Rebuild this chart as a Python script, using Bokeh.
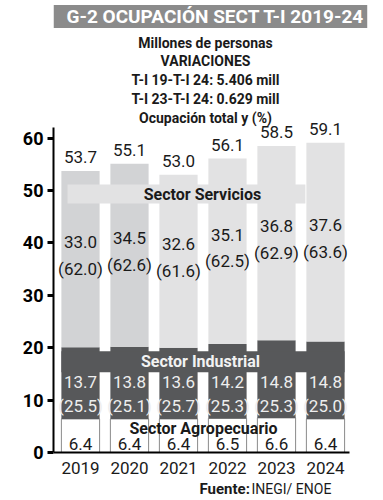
from bokeh.plotting import figure
from bokeh.models import ColumnDataSource, Range1d, FixedTicker, Label
from bokeh.core.properties import value
from bokeh.embed import file_html
from bokeh.resources import INLINE

# ---- data ----
years = ["2019", "2020", "2021", "2022", "2023", "2024"]
totals = [53.7, 55.1, 53.0, 56.1, 58.5, 59.1]
servicios = [33.0, 34.5, 32.6, 35.1, 36.8, 37.6]
servicios_pct = [62.0, 62.6, 61.6, 62.5, 62.9, 63.6]
industrial = [13.7, 13.8, 13.6, 14.2, 14.8, 14.8]
industrial_pct = [25.5, 25.1, 25.7, 25.3, 25.3, 25.0]
agro = [6.4, 6.4, 6.4, 6.5, 6.6, 6.4]
y_ticks = [0, 10, 20, 30, 40, 50, 60]
title_text = "G-2 OCUPACIÓN SECT T-I 2019-24"
subtitle_lines = ["Millones de personas", "VARIACIONES",
                  "T-I 19-T-I 24: 5.406 mill", "T-I 23-T-I 24: 0.629 mill",
                  "Ocupación total y (%)"]

FONT = "Roboto"
DARK = "#57585a"
LIGHT_A = "#d2d3d5"
LIGHT_B = "#e2e2e3"
INK = "#1a1a1a"

xs = list(range(len(years)))
ind_top = [a + i for a, i in zip(agro, industrial)]
serv_colors = [LIGHT_A, LIGHT_A, LIGHT_B, LIGHT_B, LIGHT_B, LIGHT_B]
serv_mid = [(b + t) / 2 for b, t in zip(ind_top, totals)]

src = ColumnDataSource(dict(
    x=xs, agro=agro, ind_top=ind_top, totals=totals, serv_colors=serv_colors,
    tot_lbl=[f"{v:.1f}" for v in totals],
    tot_y=[v + 2.6 for v in totals],
    serv_lbl=[f"{v:.1f}" for v in servicios],
    serv_pct_lbl=[f"({v:.1f})" for v in servicios_pct],
    serv_y=[m + 3.2 for m in serv_mid],
    serv_pct_y=[m - 1.8 for m in serv_mid],
    ind_lbl=[f"{v:.1f}" for v in industrial],
    ind_pct_lbl=[f"({v:.1f})" for v in industrial_pct],
    agro_lbl=[f"{v:.1f}" for v in agro],
))

# frame covers the full canvas height and extends to the right edge,
# so that the texts above and below the chart stay inside it
p = figure(width=383, height=500, output_backend="svg", toolbar_location=None,
           x_range=Range1d(-0.551, 6.184), y_range=Range1d(-9.16, 86.26),
           min_border_left=53, min_border_right=0, min_border_top=0,
           min_border_bottom=0)
p.outline_line_color = None
p.xgrid.visible = False
p.ygrid.visible = False
p.background_fill_color = "white"
p.border_fill_color = "white"

W = 0.78
# bars
p.vbar(x="x", bottom=0, top="agro", width=W, source=src,
       fill_color="white", line_color="#8a8a8a", line_width=1)
p.vbar(x="x", bottom="agro", top="ind_top", width=W, source=src,
       fill_color=DARK, line_color=None)
p.vbar(x="x", bottom="ind_top", top="totals", width=W, source=src,
       fill_color="serv_colors", line_color=None)

# sector bands
p.quad(left=-0.265, right=4.59, bottom=47.5, top=51.15,
       fill_color=LIGHT_B, line_color=None)
p.quad(left=-W / 2, right=5 + W / 2, bottom=15.3, top=19.3,
       fill_color=DARK, line_color=None)

sector = dict(text_font=value(FONT), text_font_style="bold", text_font_size="16px",
              text_align="center", text_baseline="middle")
p.text(x=[2.49], y=[49.3], text=["Sector Servicios"], text_color=INK, **sector)
p.text(x=[2.45], y=[17.3], text=["Sector Industrial"], text_color="#f2f2f2", **sector)
p.text(x=[2.51], y=[4.6], text=["Sector Agropecuario"], text_color=INK, **sector)

common = dict(source=src, text_font=value(FONT), text_font_size="17px",
              text_align="center", text_baseline="middle")
p.text(x="x", y="tot_y", text="tot_lbl", text_color=INK, **common)
p.text(x="x", y="serv_y", text="serv_lbl", text_color=INK, **common)
p.text(x="x", y="serv_pct_y", text="serv_pct_lbl", text_color=INK, **common)
p.text(x="x", y=13.4, text="ind_lbl", text_color="#eeeeee", **common)
p.text(x="x", y=8.8, text="ind_pct_lbl", text_color="#eeeeee", **common)
p.text(x="x", y=1.7, text="agro_lbl", text_color=INK, **common)

# axes
p.yaxis.ticker = FixedTicker(ticks=y_ticks)
p.yaxis.bounds = (0, 62)
p.yaxis.minor_tick_line_color = None
p.yaxis.axis_line_width = 2
p.yaxis.axis_line_color = "black"
p.yaxis.major_tick_in = 0
p.yaxis.major_tick_out = 6
p.yaxis.major_tick_line_width = 3
p.yaxis.major_label_text_font = FONT
p.yaxis.major_label_text_font_style = "bold"
p.yaxis.major_label_text_font_size = "18px"
p.yaxis.major_label_text_color = "black"
p.yaxis.major_label_standoff = 4

p.xaxis.ticker = FixedTicker(ticks=xs)
p.xaxis.fixed_location = 0
p.xaxis.bounds = (-0.551, 5.49)
p.xaxis.major_label_overrides = {i: y for i, y in zip(xs, years)}
p.xaxis.major_tick_line_color = None
p.xaxis.minor_tick_line_color = None
p.xaxis.major_tick_out = 0
p.xaxis.major_tick_in = 0
p.xaxis.axis_line_width = 2
p.xaxis.axis_line_color = "black"
p.xaxis.major_label_text_font = FONT
p.xaxis.major_label_text_font_size = "17px"
p.xaxis.major_label_text_color = INK
p.xaxis.major_label_standoff = 9

# annotations in screen units relative to the frame (left=53 px, bottom=500 px)
FL, FB = 53, 500
BANNER = "#8b8b8b"
p.add_layout(Label(x=53 - FL, y=FB - 16, x_units="screen", y_units="screen",
                   text=title_text, text_font=FONT, text_font_style="bold",
                   text_font_size="19px", text_color="white",
                   text_align="left", text_baseline="middle",
                   background_fill_color=BANNER, padding=(13, 3, 0, 0)))
for line, ys in zip(subtitle_lines, [42, 60, 79, 98, 117]):
    p.add_layout(Label(x=205 - FL, y=FB - ys, x_units="screen", y_units="screen",
                       text=line, text_font=FONT, text_font_style="bold",
                       text_font_size="14px", text_color=INK,
                       text_align="center", text_baseline="middle"))

p.add_layout(Label(x=199 - FL, y=FB - 488, x_units="screen", y_units="screen",
                   text="Fuente:", text_font=FONT, text_font_style="bold",
                   text_font_size="15px", text_color=INK,
                   text_align="left", text_baseline="middle"))
p.add_layout(Label(x=251 - FL, y=FB - 488, x_units="screen", y_units="screen",
                   text="INEGI/ ENOE", text_font=FONT,
                   text_font_size="14px", text_color=INK,
                   text_align="left", text_baseline="middle"))

open("out.html", "w").write(file_html(p, INLINE))
